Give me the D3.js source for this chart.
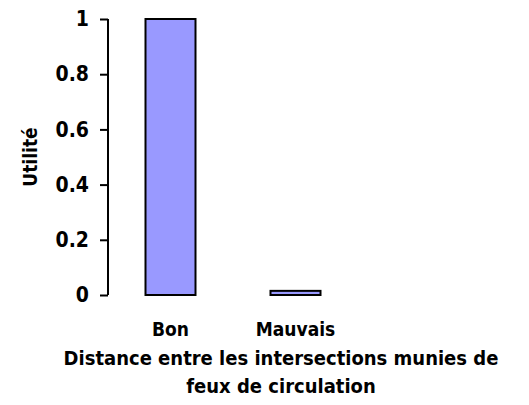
<!DOCTYPE html>
<html><head><meta charset="utf-8">
<script src="https://cdn.jsdelivr.net/npm/d3@7"></script>
<style>body{margin:0;background:#fff}svg{display:block}text{font-family:"DejaVu Sans Condensed","DejaVu Sans",sans-serif;font-weight:bold;font-stretch:condensed}</style>
</head><body>
<svg id="c" width="529" height="405"></svg>
<script>
const categories = ["Bon", "Mauvais"];
const values = [1, 0.015];
const yTicks = [0, 0.2, 0.4, 0.6, 0.8, 1];
const yTitle = "Utilité";
const xTitle = ["Distance entre les intersections munies de", "feux de circulation"];
const FONT = "'DejaVu Sans Condensed','DejaVu Sans',sans-serif";

const svg = d3.select("#c");
const mLeft = 108, mRight = 358, mTop = 19, mBottom = 295;
const x = d3.scaleBand().domain(categories).range([mLeft, mRight]).paddingInner(0.6).paddingOuter(0.3);
const y = d3.scaleLinear().domain([0, 1]).range([mBottom, mTop]);

svg.selectAll("rect.bar").data(values).join("rect")
  .attr("class", "bar")
  .attr("x", (d, i) => x(categories[i]))
  .attr("width", x.bandwidth())
  .attr("y", d => y(d))
  .attr("height", d => mBottom - y(d))
  .attr("fill", "#9999ff").attr("stroke", "#000").attr("stroke-width", 2);

const ya = svg.append("g").attr("transform", `translate(${mLeft},0)`)
  .call(d3.axisLeft(y).tickValues(yTicks).tickFormat(d => String(d)).tickSize(8).tickPadding(11));
ya.select(".domain").attr("stroke", "#000").attr("stroke-width", 2).attr("d", `M0,${mTop}V${mBottom}`);
ya.selectAll(".tick line").attr("stroke", "#000").attr("stroke-width", 2);
ya.selectAll(".tick text").attr("font-size", 21).attr("fill", "#000")
  .attr("font-family", FONT).attr("font-weight", "bold");

svg.selectAll("text.cat").data(categories).join("text").attr("class", "cat")
  .attr("x", d => x(d) + x.bandwidth() / 2).attr("y", 336)
  .attr("text-anchor", "middle").attr("font-size", 19).text(d => d);

svg.selectAll("text.xt").data(xTitle).join("text").attr("class", "xt")
  .attr("x", 281).attr("y", (d, i) => 365 + i * 28)
  .attr("text-anchor", "middle").attr("font-size", 20).text(d => d);

svg.append("text").attr("transform", "translate(37,157) rotate(-90)")
  .attr("text-anchor", "middle").attr("font-size", 19).text(yTitle);
</script>
</body></html>
